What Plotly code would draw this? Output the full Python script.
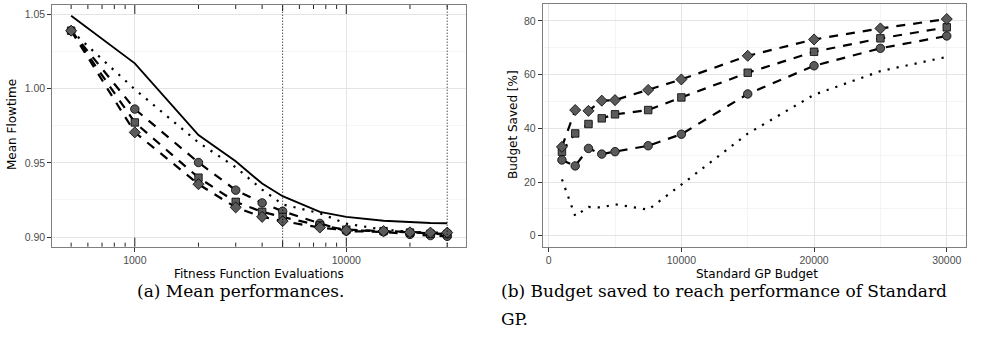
import plotly.graph_objects as go

# ---------------- data: panel (a) ----------------
EVALS = [500, 1000, 2000, 3000, 4000, 5000, 7500, 10000, 15000, 20000, 25000, 30000]
STD_GP = [1.049, 1.017, 0.9687, 0.951, 0.936, 0.9275, 0.917, 0.9136, 0.911, 0.910, 0.9095, 0.9093]
DOTTED_A = [1.039, 0.9995, 0.9637, 0.947, 0.932, 0.922, 0.916, 0.909, 0.905, 0.9035, 0.902, 0.9015]
CIRCLE_A = [1.039, 0.9862, 0.9502, 0.9316, 0.923, 0.9174, 0.9092, 0.904, 0.9035, 0.9018, 0.901, 0.9005]
SQUARE_A = [1.039, 0.9772, 0.940, 0.9237, 0.917, 0.9135, 0.9078, 0.905, 0.904, 0.903, 0.9022, 0.902]
DIAMOND_A = [1.039, 0.9705, 0.9356, 0.920, 0.9136, 0.9107, 0.9064, 0.9045, 0.904, 0.9032, 0.903, 0.903]
VLINES_A = [5000, 30000]
XTICKS_A = [1000, 10000]
XTICKTEXT_A = ["1000", "10000"]
YTICKS_A = [0.90, 0.95, 1.00, 1.05]
YTICKTEXT_A = ["0.90", "0.95", "1.00", "1.05"]
LOGTICK_SHORT = [500, 600, 700, 800, 900, 2000, 3000, 4000, 6000, 7000, 8000, 9000, 20000, 30000]
LOGTICK_MID = [5000]
LOGTICK_LONG = [1000, 10000]

# ---------------- data: panel (b) ----------------
BUDGET = [1000, 2000, 3000, 4000, 5000, 7500, 10000, 15000, 20000, 25000, 30000]
CIRCLE_B = [28.2, 26.0, 32.5, 30.4, 31.3, 33.5, 37.8, 52.8, 63.3, 69.8, 74.4]
SQUARE_B = [31.3, 38.1, 41.6, 43.7, 45.2, 46.8, 51.5, 60.7, 68.5, 73.5, 77.6]
DIAMOND_B = [33.1, 46.8, 46.5, 50.3, 50.5, 54.3, 58.2, 67.0, 73.1, 77.2, 80.7]
DOTTED_B = [21.0, 7.3, 10.7, 10.5, 11.7, 9.7, 19.0, 38.0, 52.5, 61.3, 66.6]
XTICKS_B = [0, 10000, 20000, 30000]
YTICKS_B = [0, 20, 40, 60, 80]

W, H = 984, 343
def px(x):
    return x / W
def py(y):
    return 1 - y / H

MFILL = "#5a5a5a"
DASH = "9px,8px"
DOT = "2.2px,7px"
SANS = "Liberation Sans, Arial, sans-serif"
TITLE_SANS = "DejaVu Sans, sans-serif"
SERIF = "DejaVu Serif, serif"

fig = go.Figure()

def add_lines(xs, series, xa, ya):
    for ys, style, sym, size in series:
        if style == "solid":
            fig.add_trace(go.Scatter(x=xs, y=ys, mode="lines", xaxis=xa, yaxis=ya,
                                     line=dict(color="black", width=1.9), showlegend=False))
        elif style == "dot":
            fig.add_trace(go.Scatter(x=xs, y=ys, mode="lines", xaxis=xa, yaxis=ya,
                                     line=dict(color="black", width=2.2, dash=DOT), showlegend=False))
        else:
            fig.add_trace(go.Scatter(x=xs, y=ys, mode="lines", xaxis=xa, yaxis=ya,
                                     line=dict(color="black", width=2.2, dash=DASH), showlegend=False))
    for ys, style, sym, size in series:
        if sym:
            fig.add_trace(go.Scatter(x=xs, y=ys, mode="markers", xaxis=xa, yaxis=ya,
                                     marker=dict(symbol=sym, size=size, color=MFILL,
                                                 line=dict(color="black", width=0.8)),
                                     showlegend=False))

add_lines(EVALS, [
    (STD_GP, "solid", None, 0),
    (DOTTED_A, "dot", None, 0),
    (CIRCLE_A, "dash", "circle", 8.5),
    (SQUARE_A, "dash", "square", 7.5),
    (DIAMOND_A, "dash", "diamond", 8.5),
], "x", "y")

add_lines(BUDGET, [
    (DOTTED_B, "dot", None, 0),
    (CIRCLE_B, "dash", "circle", 8.5),
    (SQUARE_B, "dash", "square", 7.5),
    (DIAMOND_B, "dash", "diamond", 8.5),
], "x2", "y2")

shapes = []
for v in VLINES_A:
    shapes.append(dict(type="line", xref="x", yref="y domain", x0=v, x1=v, y0=0, y1=1,
                       line=dict(color="black", width=1, dash="1px,2px"), layer="above"))
panel_h = 246.7 - 5
for vals, length in [(LOGTICK_SHORT, 4), (LOGTICK_MID, 6), (LOGTICK_LONG, 9)]:
    f = length / panel_h
    for v in vals:
        shapes.append(dict(type="line", xref="x", yref="y domain", x0=v, x1=v, y0=0, y1=f,
                           line=dict(color="#222222", width=1)))
        shapes.append(dict(type="line", xref="x", yref="y domain", x0=v, x1=v, y0=1, y1=1 - f,
                           line=dict(color="#222222", width=1)))

ax_common = dict(showline=True, mirror=True, linecolor="#7f7f7f", linewidth=1,
                 ticks="outside", ticklen=4, tickcolor="#333333", tickwidth=1,
                 showgrid=True, gridcolor="#e4e4e4", gridwidth=1.1, zeroline=False,
                 automargin=False,
                 tickfont=dict(family=SANS, size=10.5, color="#4d4d4d"))

fig.update_layout(
    width=W, height=H, margin=dict(l=0, r=0, t=0, b=0, pad=0),
    paper_bgcolor="white", plot_bgcolor="white", showlegend=False,
    shapes=shapes,
    xaxis=dict(ax_common, type="log", domain=[px(52.3), px(466)], range=[2.6099, 4.5660],
               tickmode="array", tickvals=XTICKS_A, ticktext=XTICKTEXT_A, anchor="y"),
    yaxis=dict(ax_common, domain=[py(246.7), py(5)], range=[0.8935, 1.0563],
               tickmode="array", tickvals=YTICKS_A, ticktext=YTICKTEXT_A, anchor="x",
               minor=dict(dtick=0.025, tick0=0.9, showgrid=True, gridcolor="#f6f6f6", ticks="")),
    xaxis2=dict(ax_common, domain=[px(542.7), px(966)], range=[-450, 31450],
                tickmode="array", tickvals=XTICKS_B, ticktext=[str(v) for v in XTICKS_B], anchor="y2",
                minor=dict(dtick=5000, tick0=0, showgrid=True, gridcolor="#f4f4f4", ticks="")),
    yaxis2=dict(ax_common, domain=[py(246.7), py(4)], range=[-4.1, 86.3],
                tickmode="array", tickvals=YTICKS_B, ticktext=[str(v) for v in YTICKS_B], anchor="x2",
                minor=dict(dtick=10, tick0=0, showgrid=True, gridcolor="#f4f4f4", ticks="")),
)

ann = [
    dict(text="Mean Flowtime", x=px(12), y=py(125), textangle=-90),
    dict(text="Fitness Function Evaluations", x=px(259), y=py(273.5), textangle=0),
    dict(text="Budget Saved [%]", x=px(513), y=py(125), textangle=-90),
    dict(text="Standard GP Budget", x=px(757), y=py(273.5), textangle=0),
]
for a in ann:
    fig.add_annotation(xref="paper", yref="paper", showarrow=False, xanchor="center", yanchor="middle",
                       text=a["text"], x=a["x"], y=a["y"], textangle=a["textangle"],
                       font=dict(family=TITLE_SANS, size=12, color="black"))

fig.add_annotation(xref="paper", yref="paper", showarrow=False, xanchor="center", yanchor="middle",
                   text="(a) Mean performances.", x=px(240), y=py(291),
                   font=dict(family=SERIF, size=17, color="black"))
fig.add_annotation(xref="paper", yref="paper", showarrow=False, xanchor="left", yanchor="middle",
                   text="(b) Budget saved to reach performance of Standard", x=px(499), y=py(291),
                   font=dict(family=SERIF, size=17, color="black"))
fig.add_annotation(xref="paper", yref="paper", showarrow=False, xanchor="left", yanchor="middle",
                   text="GP.", x=px(499), y=py(319),
                   font=dict(family=SERIF, size=17, color="black"))

fig.write_html("out.html", config={"displayModeBar": False},
               post_script="document.body.style.margin='0';document.body.style.padding='0';"
                           "document.body.style.overflow='hidden';")
